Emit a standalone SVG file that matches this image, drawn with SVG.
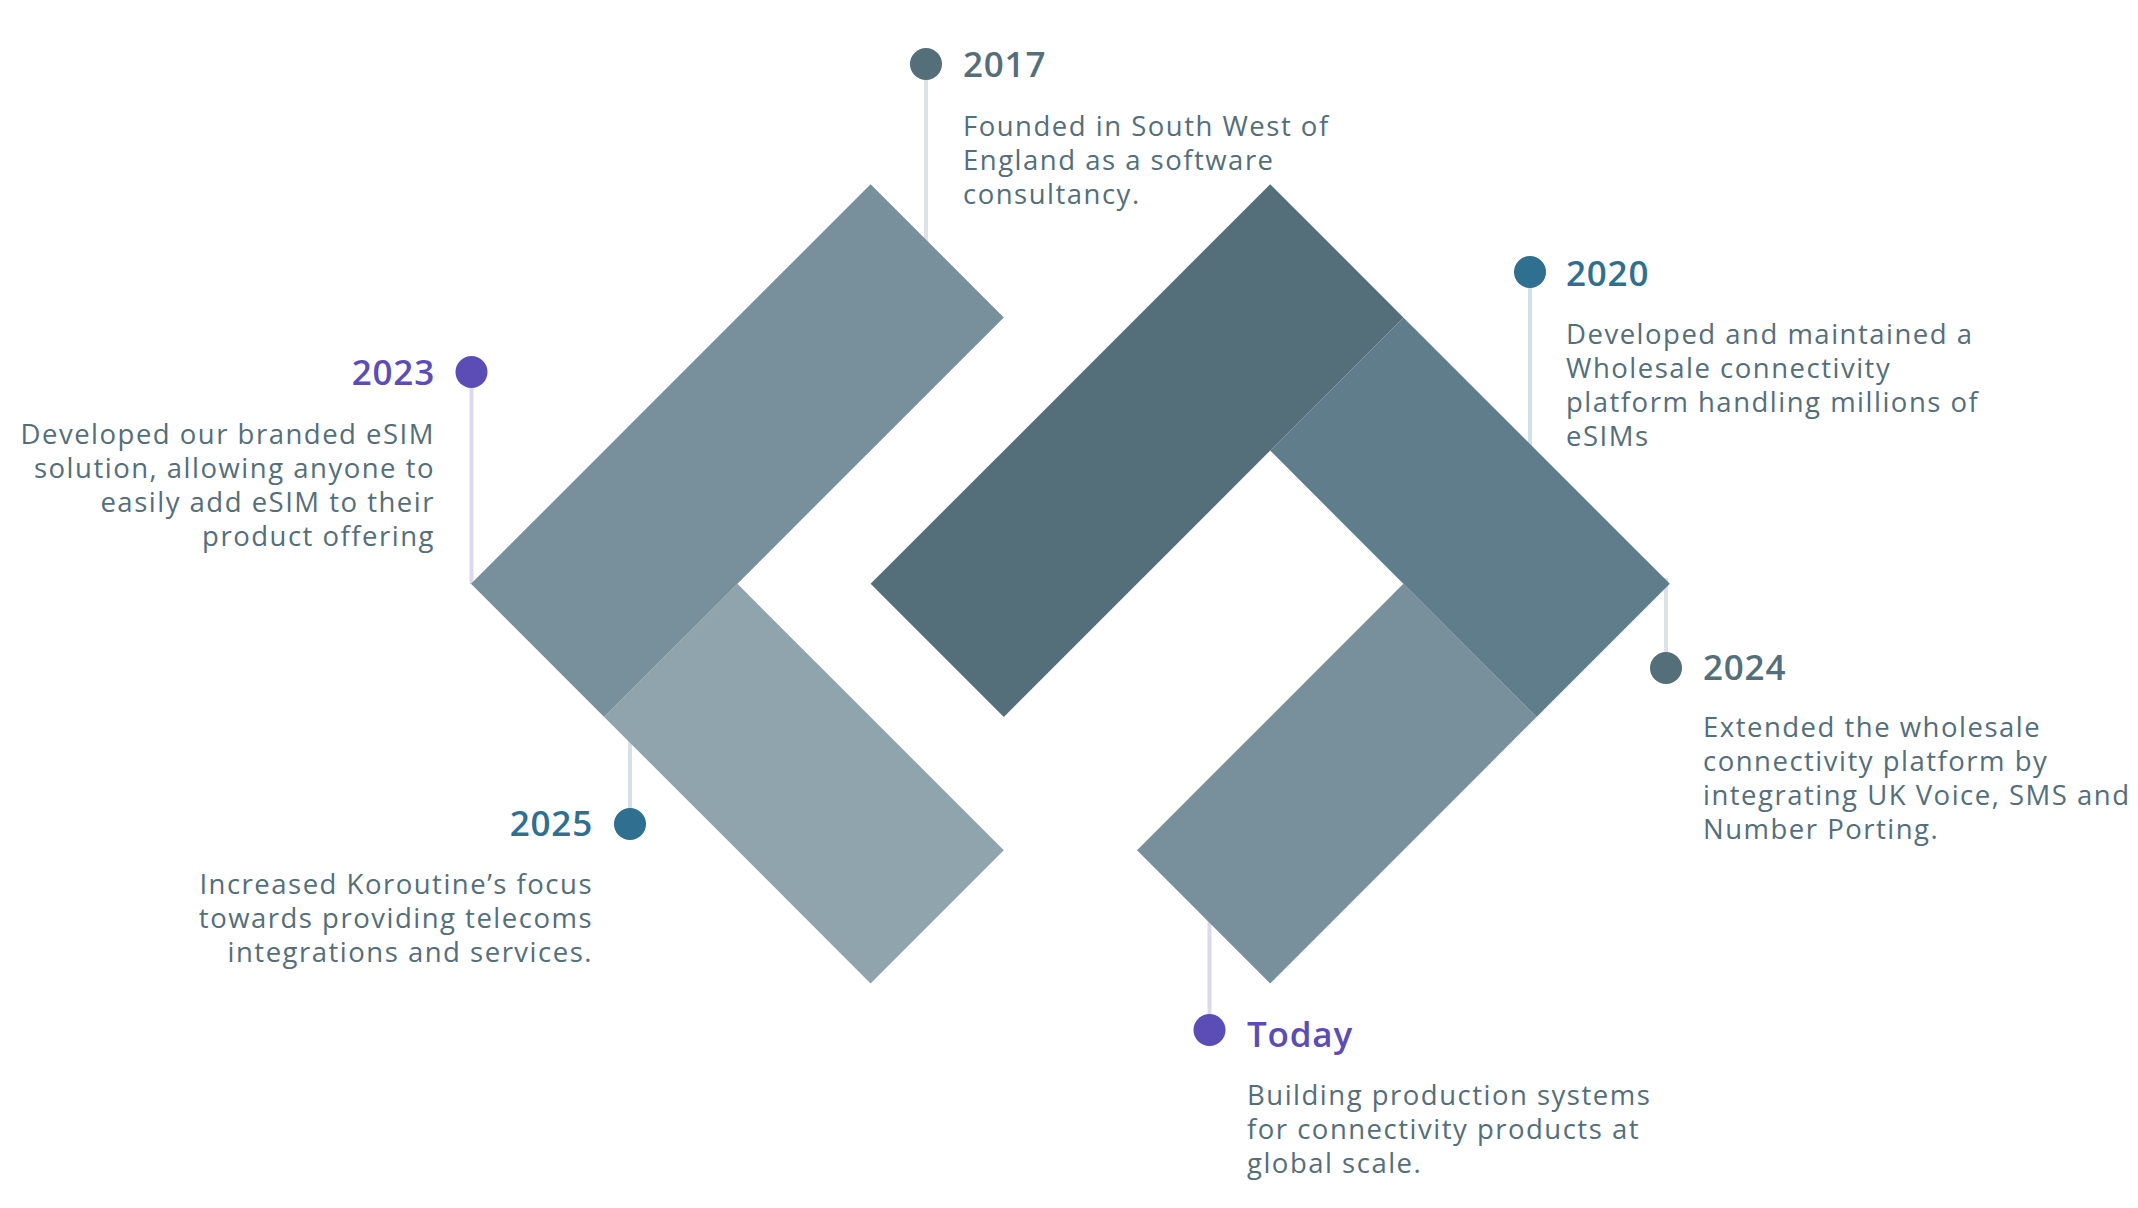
<svg xmlns="http://www.w3.org/2000/svg" width="2138" height="1208" viewBox="0 0 2138 1208">
<style>
.desc{font-family:"Open Sans","DejaVu Sans",sans-serif;font-size:27.5px;letter-spacing:1.5px;fill:#546E7A}
.year{font-family:"Open Sans","DejaVu Sans",sans-serif;font-size:35px;font-weight:600;letter-spacing:0.8px}
.end{text-anchor:end}
.c-slate{fill:#546E7A}
.c-blue{fill:#2F6F8F}
.c-purple{fill:#5C4DB6}
.ln{stroke-width:4;fill:none}
</style>
<rect width="2138" height="1208" fill="#FFFFFF"/>
<g id="connectors">
<line class="ln" x1="926" y1="64" x2="926" y2="245" stroke="#DCE2E5"/>
<line class="ln" x1="1530" y1="272" x2="1530" y2="450" stroke="#D3E0E7"/>
<line class="ln" x1="471.5" y1="372" x2="471.5" y2="584" stroke="#DCD8EF"/>
<line class="ln" x1="1666" y1="578" x2="1666" y2="668" stroke="#DCE2E5"/>
<line class="ln" x1="630" y1="735" x2="630" y2="824" stroke="#D6E0E6"/>
<line class="ln" x1="1209.5" y1="915" x2="1209.5" y2="1030" stroke="#DCD8EF"/>
</g>
<g id="shapes">
<polygon points="471,583.8 870.6,184.2 1003.8,317.4 604.2,717" fill="#78909C"/>
<polygon points="604.2,717 737.4,583.8 1003.8,850.2 870.6,983.4" fill="#90A4AE"/>
<polygon points="870.6,583.8 1270.2,184.2 1403.4,317.4 1003.8,717" fill="#546E7A"/>
<polygon points="1270.2,450.6 1403.4,317.4 1669.8,583.8 1536.6,717" fill="#607D8B"/>
<polygon points="1137,850.2 1403.4,583.8 1536.6,717 1270.2,983.4" fill="#78909C"/>
</g>
<g id="node-2017">
<circle cx="926" cy="64" r="16" class="c-slate"/>
<text x="963" y="77" class="year c-slate">2017</text>
<text class="desc"><tspan x="963" y="136">Founded in South West of</tspan><tspan x="963" y="170">England as a software</tspan><tspan x="963" y="204">consultancy.</tspan></text>
</g>
<g id="node-2020">
<circle cx="1530" cy="272" r="16" class="c-blue"/>
<text x="1566" y="286" class="year c-blue">2020</text>
<text class="desc"><tspan x="1566" y="344">Developed and maintained a</tspan><tspan x="1566" y="378">Wholesale connectivity</tspan><tspan x="1566" y="412">platform handling millions of</tspan><tspan x="1566" y="446">eSIMs</tspan></text>
</g>
<g id="node-2023">
<circle cx="471.5" cy="372" r="16" class="c-purple"/>
<text x="435" y="385" class="year c-purple end">2023</text>
<text class="desc end"><tspan x="435" y="444">Developed our branded eSIM</tspan><tspan x="435" y="478">solution, allowing anyone to</tspan><tspan x="435" y="512">easily add eSIM to their</tspan><tspan x="435" y="546">product offering</tspan></text>
</g>
<g id="node-2024">
<circle cx="1666" cy="668" r="16" class="c-slate"/>
<text x="1703" y="680" class="year c-slate">2024</text>
<text class="desc"><tspan x="1703" y="737">Extended the wholesale</tspan><tspan x="1703" y="771">connectivity platform by</tspan><tspan x="1703" y="805">integrating UK Voice, SMS and</tspan><tspan x="1703" y="839">Number Porting.</tspan></text>
</g>
<g id="node-2025">
<circle cx="630" cy="824" r="16" class="c-blue"/>
<text x="593" y="836" class="year c-blue end">2025</text>
<text class="desc end"><tspan x="593" y="894">Increased Koroutine’s focus</tspan><tspan x="593" y="928">towards providing telecoms</tspan><tspan x="593" y="962">integrations and services.</tspan></text>
</g>
<g id="node-today">
<circle cx="1209.5" cy="1030" r="16" class="c-purple"/>
<text x="1247" y="1047" class="year c-purple">Today</text>
<text class="desc"><tspan x="1247" y="1105">Building production systems</tspan><tspan x="1247" y="1139">for connectivity products at</tspan><tspan x="1247" y="1173">global scale.</tspan></text>
</g>
</svg>
